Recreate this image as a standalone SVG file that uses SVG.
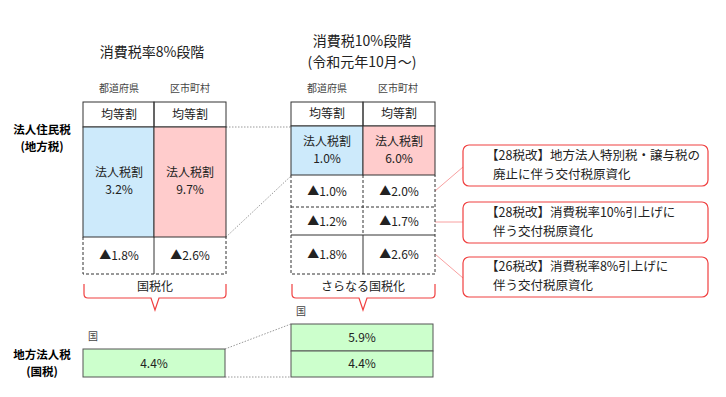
<svg xmlns="http://www.w3.org/2000/svg" width="726" height="397" viewBox="0 0 726 397">
<style>
text{font-family:"Noto Sans CJK JP","Noto Sans",sans-serif;fill:#222;text-anchor:middle}
.t{font-size:14px}
.h{font-size:10px;fill:#444}
.c{font-size:12px}
.b{font-size:11.5px;font-weight:bold;fill:#000}
.k{font-size:12.5px;text-anchor:start}
.s{fill:none;stroke:#333;stroke-width:1}
.d{fill:none;stroke:#333;stroke-width:1;stroke-dasharray:3,2}
.br{fill:none;stroke:#f04040;stroke-width:1.2}
.cb{fill:#fff;stroke:#f04040;stroke-width:1.2}
.dot{fill:none;stroke:#999;stroke-width:1;stroke-dasharray:1.5,1.5}
.rl{fill:none;stroke:#f8a0a0;stroke-width:1}
</style>
<rect width="726" height="397" fill="#fff"/>

<g id="titles">
<text class="t" x="152" y="57">消費税率8%段階</text>
<text class="t" x="362" y="46">消費税10%段階</text>
<text class="t" x="362" y="67">(令和元年10月～)</text>
<text class="h" x="119" y="92">都道府県</text>
<text class="h" x="190" y="92">区市町村</text>
<text class="h" x="327" y="92">都道府県</text>
<text class="h" x="398" y="92">区市町村</text>
</g>

<g id="row-labels">
<text class="b" x="42" y="134">法人住民税</text>
<text class="b" x="42" y="151">(地方税)</text>
<text class="b" x="42" y="359">地方法人税</text>
<text class="b" x="42" y="376">(国税)</text>
</g>

<g id="connectors">
<line class="dot" x1="226" y1="127" x2="291" y2="127"/>
<line class="dot" x1="226" y1="237" x2="291" y2="176"/>
<line class="dot" x1="225" y1="349" x2="291" y2="324"/>
<line class="dot" x1="225" y1="377" x2="291" y2="377"/>
<line class="rl" x1="435" y1="191" x2="463" y2="167"/>
<line class="rl" x1="435" y1="222" x2="463" y2="222"/>
<line class="rl" x1="435" y1="254" x2="463" y2="278"/>
</g>

<g id="left-table">
<rect class="s" x="83" y="102" width="71" height="25" fill="#fff"/>
<rect class="s" x="154" y="102" width="72" height="25" fill="#fff"/>
<text class="c" x="119" y="119">均等割</text>
<text class="c" x="190" y="119">均等割</text>
<rect x="83" y="127" width="71" height="110" fill="#cdeafb" stroke="#333"/>
<rect x="154" y="127" width="72" height="110" fill="#ffcccc" stroke="#333"/>
<text class="c" x="119" y="177">法人税割</text>
<text class="c" x="119" y="194">3.2%</text>
<text class="c" x="190" y="177">法人税割</text>
<text class="c" x="190" y="194">9.7%</text>
<path class="d" d="M83,237 V274 H226 V237"/>
<line class="s" x1="154" y1="237" x2="154" y2="274"/>
<text class="c" x="119" y="260">▲1.8%</text>
<text class="c" x="190" y="260">▲2.6%</text>
<path class="br" d="M84,284 V294 Q84,298 88,298 H151 L155,310 L159,298 H222 Q226,298 226,294 V284"/>
<text class="c" x="155" y="291">国税化</text>
</g>

<g id="right-table">
<rect class="s" x="291" y="102" width="72" height="24" fill="#fff"/>
<rect class="s" x="363" y="102" width="72" height="24" fill="#fff"/>
<text class="c" x="327" y="118">均等割</text>
<text class="c" x="399" y="118">均等割</text>
<rect x="291" y="126" width="72" height="49" fill="#cdeafb" stroke="#333"/>
<rect x="363" y="126" width="72" height="49" fill="#ffcccc" stroke="#333"/>
<text class="c" x="327" y="146">法人税割</text>
<text class="c" x="327" y="163">1.0%</text>
<text class="c" x="399" y="146">法人税割</text>
<text class="c" x="399" y="163">6.0%</text>
<path class="d" d="M291,175 V274 H435 V175"/>
<line class="d" x1="291" y1="207" x2="435" y2="207"/>
<line class="d" x1="363" y1="175" x2="363" y2="235"/>
<line class="s" x1="291" y1="235" x2="435" y2="235"/>
<line class="s" x1="363" y1="235" x2="363" y2="274"/>
<text class="c" x="327" y="196">▲1.0%</text>
<text class="c" x="399" y="196">▲2.0%</text>
<text class="c" x="327" y="226">▲1.2%</text>
<text class="c" x="399" y="226">▲1.7%</text>
<text class="c" x="327" y="259">▲1.8%</text>
<text class="c" x="399" y="259">▲2.6%</text>
<path class="br" d="M292,284 V294 Q292,298 296,298 H359 L363,310 L367,298 H431 Q435,298 435,294 V284"/>
<text class="c" x="363" y="291">さらなる国税化</text>
</g>

<g id="callout-1">
<rect class="cb" x="463" y="145" width="245" height="41" rx="6"/>
<text class="k" x="486" y="160">【28税改】地方法人特別税・譲与税の</text>
<text class="k" x="493" y="179">廃止に伴う交付税原資化</text>
</g>
<g id="callout-2">
<rect class="cb" x="463" y="202" width="245" height="41" rx="6"/>
<text class="k" x="486" y="217">【28税改】消費税率10%引上げに</text>
<text class="k" x="493" y="236">伴う交付税原資化</text>
</g>
<g id="callout-3">
<rect class="cb" x="463" y="257" width="245" height="40" rx="6"/>
<text class="k" x="486" y="271">【26税改】消費税率8%引上げに</text>
<text class="k" x="493" y="290">伴う交付税原資化</text>
</g>

<g id="national-left">
<text class="h" x="93" y="340">国</text>
<rect x="83" y="349" width="142" height="28" fill="#ccffcc" stroke="#555"/>
<text class="c" x="154" y="368">4.4%</text>
</g>
<g id="national-right">
<text class="h" x="301" y="315">国</text>
<rect x="291" y="324" width="142" height="27" fill="#ccffcc" stroke="#555"/>
<rect x="291" y="351" width="142" height="26" fill="#ccffcc" stroke="#555"/>
<text class="c" x="362" y="342">5.9%</text>
<text class="c" x="362" y="368">4.4%</text>
</g>
</svg>
